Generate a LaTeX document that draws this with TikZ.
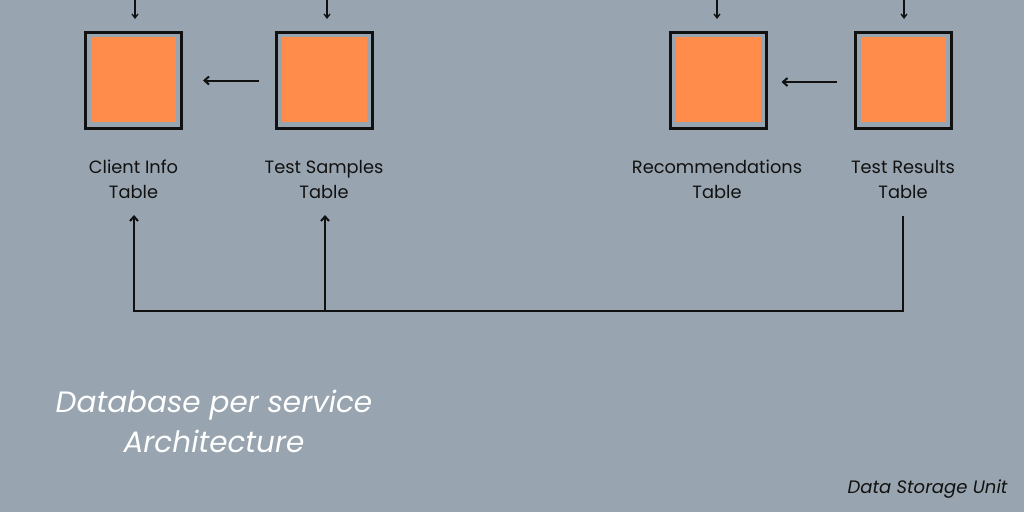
\documentclass[tikz,border=0pt]{standalone}
\usepackage{fontspec}
\setmainfont{Poppins}
\usetikzlibrary{arrows.meta}
\definecolor{bg}{HTML}{98A4AF}
\definecolor{org}{HTML}{FF8C4B}
\definecolor{ink}{HTML}{111111}
\begin{document}
\begin{tikzpicture}[x=1pt,y=-1pt,
  tbox/.style={draw=ink,line width=3pt,fill=bg,minimum size=96pt,inner sep=0pt},
  tfill/.style={fill=org,minimum size=85pt,inner sep=0pt},
  lbl/.style={align=center,font=\fontsize{17.8}{24.5}\selectfont,text=ink},
  feed/.style={draw=ink,line width=1.3pt,-{Straight Barb[length=4pt,width=6pt]}},
  harr/.style={draw=ink,line width=2pt,-{Straight Barb[length=4.5pt,width=8pt]}},
  wire/.style={draw=ink,line width=2pt},
]
\fill[bg] (0,0) rectangle (1024,512);
\useasboundingbox (0,0) rectangle (1024,512);
% boxes
\node[tbox] (ci) at (133.5,80.5) {};
\node[tfill] (cif) at (133.5,79.5) {};
\node[tbox] (ts) at (324,80.5) {};
\node[tfill] (tsf) at (324.5,79.5) {};
\node[tbox] (rc) at (718,80.5) {};
\node[tfill] (rcf) at (718,79.5) {};
\node[tbox] (tr) at (903,80.5) {};
\node[tfill] (trf) at (903.5,79.5) {};
% labels
\node[lbl] (cil) at (133.5,179.5) {Client Info\\Table};
\node[lbl] (tsl) at (324,179.5) {Test Samples\\Table};
\node[lbl] (rcl) at (717,179.5) {Recommendations\\Table};
\node[lbl] (trl) at (903,179.5) {Test Results\\Table};
% top feeds
\coordinate (cit) at (135,0);
\coordinate (tst) at (327,0);
\coordinate (rct) at (717,0);
\coordinate (trt) at (904,0);
\draw[feed,shorten >=12pt] (cit) -- (cit |- ci.north);
\draw[feed,shorten >=12pt] (tst) -- (tst |- ts.north);
\draw[feed,shorten >=12pt] (rct) -- (rct |- rc.north);
\draw[feed,shorten >=12pt] (trt) -- (trt |- tr.north);
% horizontal arrows
\draw[harr,shorten <=16pt,shorten >=20pt] (ts.west) -- (ci.east);
\draw[harr,shorten <=17pt,shorten >=14pt] ([yshift=-1.5pt]tr.west) -- ([yshift=-1.5pt]rc.east);
% bottom bus
\coordinate (trb) at (903,216);
\coordinate (busR) at (903,311);
\coordinate (busL) at (134,311);
\coordinate (busM) at (325,311);
\coordinate (cib) at (134,215);
\coordinate (tsb) at (325,215);
\draw[wire] (trb) -- (busR) -- (busL);
\draw[harr,line cap=rect] (busL) -- (cib);
\draw[harr] (busM) -- (tsb);
% titles
\node[font=\fontsize{29.5}{40}\selectfont\itshape,text=white,align=center] (title) at (214,421) {Database per service\\Architecture};
\node[font=\fontsize{18}{20}\selectfont\itshape,text=ink,anchor=east] (dsu) at (1011,489) {Data Storage Unit};
\end{tikzpicture}
\end{document}
